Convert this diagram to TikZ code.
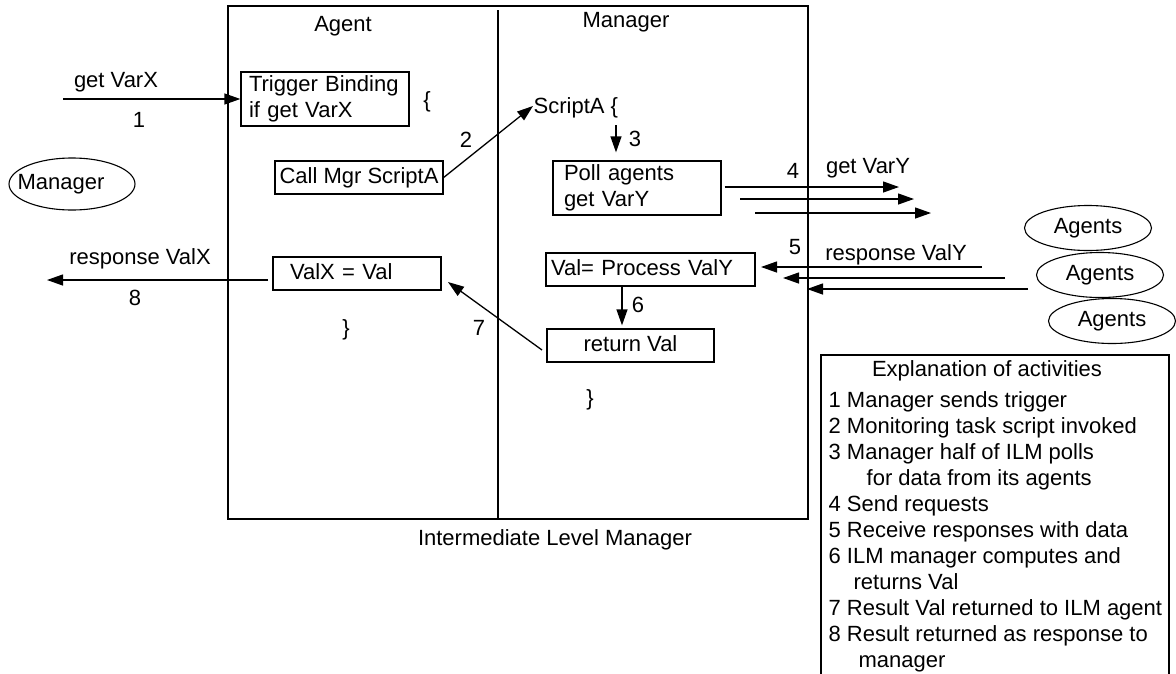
\documentclass[tikz,border=0pt]{standalone}
\usepackage{fontspec}
\setmainfont{Liberation Sans}
\usetikzlibrary{arrows.meta,shapes.geometric}

\begin{document}
\begin{tikzpicture}[x=1pt, y=-1pt, line width=1.3pt,
        every node/.style={font=\fontsize{22}{26}\selectfont},
        testo/.style={inner sep=0pt, text height=18pt, text depth=3pt},
        casella/.style={draw, inner ysep=0pt, minimum height=33pt, text height=16pt, text depth=5pt},
        doppia/.style={draw, align=left, inner ysep=2pt, minimum height=54pt},
        nuvola/.style={draw, ellipse, inner sep=0pt, line width=1.1pt},
        freccia/.style={-{Triangle[length=16pt,width=11pt]}}]
        \useasboundingbox (0,0) rectangle (1176,673);

        % Riquadro dell'ILM
        \draw (228,6) rectangle (808,519);
        \draw (498,10) -- (498,519);
        \node[testo] (agente) at (343,24) {Agent};
        \node[testo] (gestore) at (626,20) {Manager};
        \node[testo] (ilm) at (555,538) {Intermediate Level Manager};

        % Manager esterno
        \node[nuvola, minimum width=126pt, minimum height=52pt] (mgr) at (72,184) {\hspace*{-22pt}Manager};

        % Meta agente
        \node[doppia, text width=152pt, inner xsep=8pt] (trig) at (325,99) {Trigger Binding\\if get VarX};
        \node[testo] (graffa1) at (427,100) {\{};
        \node[casella, minimum width=168pt] (call) at (359,177.5) {Call Mgr ScriptA};
        \node[casella, text width=134pt, inner xsep=17pt, align=left] (valx) at (357,273.5) {ValX = Val};
        \node[testo] (graffa2) at (346,328) {\}};

        % Meta manager
        \node[testo, anchor=west] (script) at (533,106) {ScriptA \{};
        \node[doppia, text width=146pt, inner xsep=11pt] (poll) at (637,188) {Poll agents\\get VarY};
        \node[casella, text width=199pt, inner xsep=5pt, align=left] (proc) at (650.5,269.5) {Val= Process ValY};
        \node[casella, minimum width=167pt] (ret) at (630.5,345.5) {return Val};
        \node[testo] (graffa3) at (590,398) {\}};

        % Agenti
        \node[nuvola, minimum width=127pt, minimum height=45pt] (ag1) at (1088,228) {Agents};
        \node[nuvola, minimum width=127pt, minimum height=45pt] (ag2) at (1100,275) {Agents};
        \node[nuvola, minimum width=127pt, minimum height=45pt] (ag3) at (1112,321) {Agents};

        % Punti liberi delle frecce
        \coordinate (s1) at (63,99);
        \coordinate (s3) at (616,125);
        \coordinate (t4a) at (899,187);
        \coordinate (s4b) at (740,199);
        \coordinate (t4b) at (914,199);
        \coordinate (s4c) at (755,213);
        \coordinate (t4c) at (931,213);
        \coordinate (s5a) at (982,267);
        \coordinate (t5a) at (761,267);
        \coordinate (s5b) at (1005,278);
        \coordinate (t5b) at (783,278);
        \coordinate (s5c) at (1028,289);
        \coordinate (t5c) at (807,289);
        \coordinate (s6) at (622,286);
        \coordinate (s7) at (542,350);
        \coordinate (t7) at (448,282);
        \coordinate (s8) at (268,280);
        \coordinate (t8) at (47,280);

        % Frecce numerate
        \draw[freccia] (s1) -- (trig.west);
        \node[testo] (getx) at (116,80) {get VarX};
        \node[testo] (n1) at (139,120) {1};

        \draw[freccia] (call.east) -- (script.west);
        \node[testo] (n2) at (466,140) {2};

        \draw[freccia, shorten >=8pt] (s3) -- (s3 |- poll.north);
        \node[testo] (n3) at (635,139) {3};

        \draw[freccia] ([xshift=3pt,yshift=1pt]poll.east) -- (t4a);
        \draw[freccia] (s4b) -- (t4b);
        \draw[freccia] (s4c) -- (t4c);
        \node[testo] (n4) at (793,171) {4};
        \node[testo] (gety) at (868,166) {get VarY};

        \draw[freccia] (s5a) -- (t5a);
        \draw[freccia] (s5b) -- (t5b);
        \draw[freccia] (s5c) -- (t5c);
        \node[testo] (n5) at (795,247) {5};
        \node[testo] (respy) at (896,253) {response ValY};

        \draw[freccia, shorten >=3pt] (s6) -- (s6 |- ret.north);
        \node[testo] (n6) at (638,305) {6};

        \draw[freccia] (s7) -- (t7);
        \node[testo] (n7) at (479,328) {7};

        \draw[freccia] (s8) -- (t8);
        \node[testo] (respx) at (140,257) {response ValX};
        \node[testo] (n8) at (135,298) {8};

        % Spiegazione delle attivita
        \draw (821,680) |- (1169,355) -- (1169,680);
        \node[testo] (spieg) at (987,369) {Explanation of activities};
        \node[testo, anchor=west] (e1) at (828,400) {1 Manager sends trigger};
        \node[testo, anchor=west] (e2) at (828,426) {2 Monitoring task script invoked};
        \node[testo, anchor=west] (e3) at (828,452) {3 Manager half of ILM polls};
        \node[testo, anchor=west] (e3b) at (866,478) {for data from its agents};
        \node[testo, anchor=west] (e4) at (828,504) {4 Send requests};
        \node[testo, anchor=west] (e5) at (828,530) {5 Receive responses with data};
        \node[testo, anchor=west] (e6) at (828,556) {6 ILM manager computes and};
        \node[testo, anchor=west] (e6b) at (853,582) {returns Val};
        \node[testo, anchor=west] (e7) at (828,608) {7 Result Val returned to ILM agent};
        \node[testo, anchor=west] (e8) at (828,634) {8 Result returned as response to};
        \node[testo, anchor=west] (e8b) at (858,660) {manager};
    \end{tikzpicture}
\end{document}
